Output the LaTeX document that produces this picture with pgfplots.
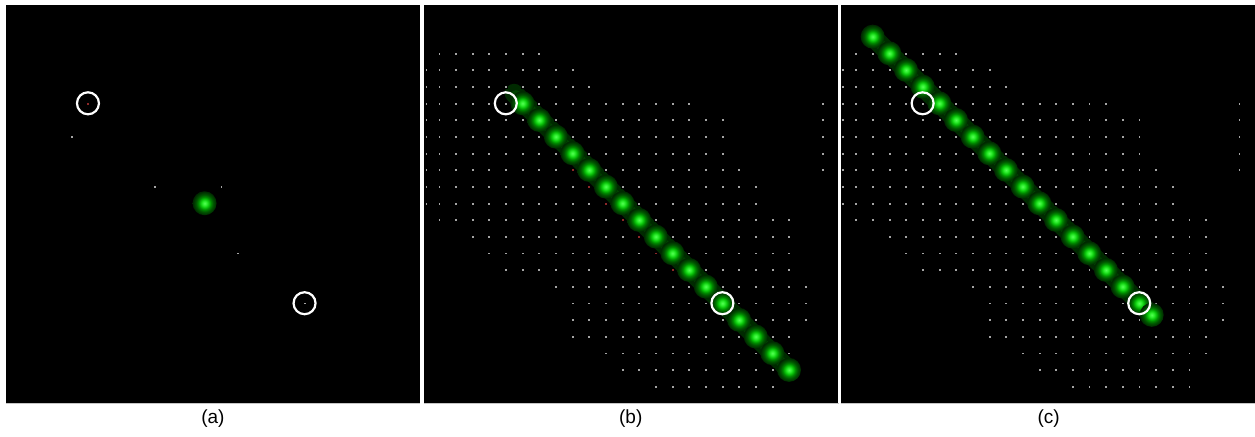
\documentclass[border=0pt]{standalone}
\usepackage{pgfplots}
\pgfplotsset{compat=1.18}
\usepackage{pgfplotstable}
\usepackage{fontspec}
\setmainfont{Liberation Sans}

\definecolor{gl1}{RGB}{0,38,0}
\definecolor{gl3}{RGB}{0,84,0}
\definecolor{gl5}{RGB}{0,138,0}
\definecolor{gl7}{RGB}{10,195,10}
\definecolor{gl9}{RGB}{45,238,45}
\definecolor{gl10}{RGB}{85,254,85}
\definecolor{lineA}{RGB}{0,42,0}
\definecolor{lineB}{RGB}{0,66,0}
\definecolor{griddot}{RGB}{165,165,165}
\definecolor{dimred}{RGB}{140,40,40}

\pgfdeclareradialshading{greenglow}{\pgfpoint{0bp}{0bp}}{%
  color(0bp)=(gl10); color(4.5bp)=(gl9); color(9bp)=(gl7); color(13bp)=(gl5);
  color(18bp)=(gl3); color(25bp)=(gl1); color(50bp)=(gl1)}

\pgfdeclareplotmark{glowmark}{%
  \pgfpathcircle{\pgfpointorigin}{\pgfplotmarksize}%
  \pgfshadepath{greenglow}{0}%
  \pgfusepath{}%
}

% grid of faint dots (column, row)
\pgfplotstableread[row sep=\\]{
x y\\
0 0\\ 1 0\\ 2 0\\ 3 0\\ 4 0\\ 5 0\\ 6 0\\
-0.78 1\\ 0 1\\ 1 1\\ 2 1\\ 3 1\\ 4 1\\ 5 1\\ 6 1\\ 7 1\\ 8 1\\
-0.78 2\\ 0 2\\ 1 2\\ 2 2\\ 3 2\\ 4 2\\ 5 2\\ 6 2\\ 7 2\\ 8 2\\ 9 2\\
-0.78 3\\ 0 3\\ 1 3\\ 2 3\\ 3 3\\ 4 3\\ 5 3\\ 6 3\\ 7 3\\ 8 3\\ 9 3\\ 10 3\\ 11 3\\ 12 3\\ 13 3\\ 14 3\\ 15 3\\ 23 3\\
-0.78 4\\ 0 4\\ 1 4\\ 2 4\\ 3 4\\ 4 4\\ 5 4\\ 6 4\\ 7 4\\ 8 4\\ 9 4\\ 10 4\\ 11 4\\ 12 4\\ 13 4\\ 14 4\\ 15 4\\ 16 4\\ 17 4\\ 23 4\\
-0.78 5\\ 0 5\\ 1 5\\ 2 5\\ 3 5\\ 4 5\\ 5 5\\ 6 5\\ 7 5\\ 8 5\\ 9 5\\ 10 5\\ 11 5\\ 12 5\\ 13 5\\ 14 5\\ 15 5\\ 16 5\\ 17 5\\ 23 5\\
-0.78 6\\ 0 6\\ 1 6\\ 2 6\\ 3 6\\ 4 6\\ 5 6\\ 6 6\\ 7 6\\ 8 6\\ 9 6\\ 10 6\\ 11 6\\ 12 6\\ 13 6\\ 14 6\\ 15 6\\ 16 6\\ 17 6\\ 23 6\\
-0.78 7\\ 0 7\\ 1 7\\ 2 7\\ 3 7\\ 4 7\\ 5 7\\ 6 7\\ 7 7\\ 8 7\\ 9 7\\ 10 7\\ 11 7\\ 12 7\\ 13 7\\ 14 7\\ 15 7\\ 16 7\\ 17 7\\ 18 7\\ 23 7\\
-0.78 8\\ 0 8\\ 1 8\\ 2 8\\ 3 8\\ 4 8\\ 5 8\\ 6 8\\ 7 8\\ 8 8\\ 9 8\\ 10 8\\ 11 8\\ 12 8\\ 13 8\\ 14 8\\ 15 8\\ 16 8\\ 17 8\\ 18 8\\ 19 8\\
-0.78 9\\ 0 9\\ 1 9\\ 2 9\\ 3 9\\ 4 9\\ 5 9\\ 6 9\\ 7 9\\ 8 9\\ 9 9\\ 10 9\\ 11 9\\ 12 9\\ 13 9\\ 14 9\\ 15 9\\ 16 9\\ 17 9\\ 18 9\\ 19 9\\
0 10\\ 1 10\\ 2 10\\ 3 10\\ 4 10\\ 5 10\\ 6 10\\ 7 10\\ 8 10\\ 9 10\\ 10 10\\ 11 10\\ 12 10\\ 13 10\\ 14 10\\ 15 10\\ 16 10\\ 17 10\\ 18 10\\ 19 10\\ 20 10\\ 21 10\\
2 11\\ 3 11\\ 4 11\\ 5 11\\ 6 11\\ 7 11\\ 8 11\\ 9 11\\ 10 11\\ 11 11\\ 12 11\\ 13 11\\ 14 11\\ 15 11\\ 16 11\\ 17 11\\ 18 11\\ 19 11\\ 20 11\\ 21 11\\
3 12\\ 4 12\\ 5 12\\ 6 12\\ 7 12\\ 8 12\\ 9 12\\ 10 12\\ 11 12\\ 12 12\\ 13 12\\ 14 12\\ 15 12\\ 16 12\\ 17 12\\ 18 12\\ 19 12\\ 20 12\\ 21 12\\
4 13\\ 5 13\\ 6 13\\ 7 13\\ 8 13\\ 9 13\\ 10 13\\ 11 13\\ 12 13\\ 13 13\\ 14 13\\ 15 13\\ 16 13\\ 17 13\\ 18 13\\ 19 13\\ 20 13\\ 21 13\\
7 14\\ 8 14\\ 9 14\\ 10 14\\ 11 14\\ 12 14\\ 13 14\\ 14 14\\ 15 14\\ 16 14\\ 17 14\\ 18 14\\ 19 14\\ 20 14\\ 21 14\\ 22 14\\
8 15\\ 9 15\\ 10 15\\ 11 15\\ 12 15\\ 13 15\\ 14 15\\ 15 15\\ 16 15\\ 17 15\\ 18 15\\ 19 15\\ 20 15\\ 21 15\\ 22 15\\
8 16\\ 9 16\\ 10 16\\ 11 16\\ 12 16\\ 13 16\\ 14 16\\ 15 16\\ 16 16\\ 17 16\\ 18 16\\ 19 16\\ 20 16\\ 21 16\\ 22 16\\
8 17\\ 9 17\\ 10 17\\ 11 17\\ 12 17\\ 13 17\\ 14 17\\ 15 17\\ 16 17\\ 17 17\\ 18 17\\ 19 17\\ 20 17\\ 21 17\\
10 18\\ 11 18\\ 12 18\\ 13 18\\ 14 18\\ 15 18\\ 16 18\\ 17 18\\ 18 18\\ 19 18\\ 20 18\\ 21 18\\
11 19\\ 12 19\\ 13 19\\ 14 19\\ 15 19\\ 16 19\\ 17 19\\ 18 19\\ 19 19\\ 20 19\\
13 20\\ 14 20\\ 15 20\\ 16 20\\ 17 20\\ 18 20\\ 19 20\\ 20 20\\
}\gridtab

% green dot, panel (a)
\pgfplotstableread[row sep=\\]{
x y\\
11 9\\
}\greena

% green dots, panel (b)
\pgfplotstableread[row sep=\\]{
x y\\
5 3\\ 6 4\\ 7 5\\ 8 6\\ 9 7\\ 10 8\\ 11 9\\ 12 10\\ 13 11\\ 14 12\\ 15 13\\ 16 14\\ 17 15\\ 18 16\\ 19 17\\ 20 18\\ 21 19\\
}\greenb

% green dots, panel (c)
\pgfplotstableread[row sep=\\]{
x y\\
1 -1\\ 2 0\\ 3 1\\ 4 2\\ 5 3\\ 6 4\\ 7 5\\ 8 6\\ 9 7\\ 10 8\\ 11 9\\ 12 10\\ 13 11\\ 14 12\\ 15 13\\ 16 14\\ 17 15\\ 17.75 15.7\\
}\greenc

\pgfplotsset{
  panel/.style={
    scale only axis, width=414pt, height=398pt,
    xmin=-0.92, xmax=23.92, ymin=-2.9, ymax=20.98, y dir=reverse,
    ticks=none, axis line style={draw=none},
    axis background/.style={fill=black},
    clip=true,
  },
  gridmarks/.style={only marks, mark=square*, mark size=1.45pt, mark options={draw=none, fill=griddot}},
  glowdot/.style={only marks, mark=glowmark, mark size=12pt},
  ring/.style={only marks, mark=o, mark size=11pt, mark options={draw=white, line width=2.2pt}},
}

\begin{document}
\begin{tikzpicture}
\fill[white] (0pt,0pt) rectangle (1255pt,-437pt);

% ---------------- panel (a)
\begin{axis}[panel, at={(6pt,-5pt)}, anchor=north west]
\addplot[gridmarks] coordinates {(3,5) (8,8) (12,8) (13,12) (17,15)};
\addplot[only marks, mark=square*, mark size=1.45pt, mark options={draw=none, fill=dimred}] coordinates {(4,3)};
\addplot[glowdot] table {\greena};
\addplot[ring] coordinates {(4,3) (17,15)};
\end{axis}

% ---------------- panel (b)
\begin{axis}[panel, at={(424pt,-5pt)}, anchor=north west]
\addplot[gridmarks] table {\gridtab};
\addplot[only marks, mark=square*, mark size=1.45pt, mark options={draw=none, fill=dimred}] coordinates {(8,7) (9,8) (10,9) (11,10) (12,11) (13,12) (14,13)};
\addplot[lineA, line width=19pt, line cap=round] coordinates {(4.5,2.4) (21,19)};
\addplot[lineB, line width=10pt, line cap=round] coordinates {(4.6,2.5) (21,19)};
\addplot[glowdot] table {\greenb};
\addplot[ring] coordinates {(4,3) (17,15)};
\end{axis}

% ---------------- panel (c)
\begin{axis}[panel, at={(841pt,-5pt)}, anchor=north west]
\addplot[gridmarks] table {\gridtab};
\addplot[lineA, line width=19pt, line cap=round] coordinates {(1,-1) (17.75,15.7)};
\addplot[lineB, line width=10pt, line cap=round] coordinates {(1,-1) (17.75,15.7)};
\addplot[glowdot] table {\greenc};
\addplot[ring] coordinates {(4,3) (17,15)};
\end{axis}

\draw[gray!45, line width=1pt] (6pt,-403.5pt) -- (420pt,-403.5pt);
\draw[gray!45, line width=1pt] (424pt,-403.5pt) -- (839pt,-403.5pt);
\draw[gray!45, line width=1pt] (841pt,-403.5pt) -- (1255pt,-403.5pt);

\node[font=\fontsize{19}{23}\selectfont] at (213pt,-419pt) {(a)};
\node[font=\fontsize{19}{23}\selectfont] at (631pt,-419pt) {(b)};
\node[font=\fontsize{19}{23}\selectfont] at (1049pt,-419pt) {(c)};
\end{tikzpicture}
\end{document}
